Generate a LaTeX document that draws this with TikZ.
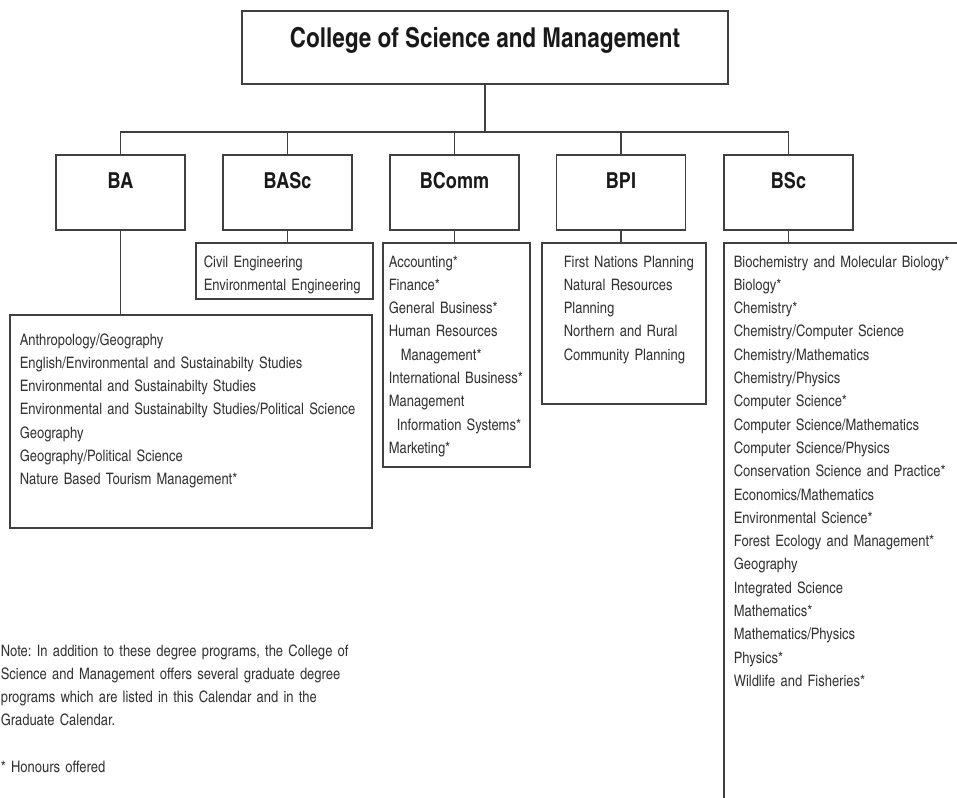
\documentclass[tikz,border=0pt]{standalone}
\usepackage{fontspec}
\setmainfont{texgyreheroscn}[Extension=.otf, UprightFont=*-regular, BoldFont=*-bold]
\frenchspacing

\def\listFont{\fontsize{15.8}{23.3}\selectfont}

\begin{document}
\begin{tikzpicture}[x=1pt, y=-1pt, line cap=round, line width=1.6pt,
	box/.style={draw=black!75, rectangle, inner sep=0pt},
	headBox/.style={box, font=\fontsize{27.4}{27.4}\selectfont\bfseries, text=black!90},
	degreeBox/.style={headBox, font=\fontsize{22}{22}\selectfont\bfseries, minimum width=129pt, text height=33pt, text depth=42pt},
	listText/.style={anchor=base west, align=left, text width=360pt, inner sep=0pt, font=\listFont, text=black!80}]
		\useasboundingbox (0,0) rectangle (957,797);
		
		\node (college) [headBox, minimum width=486pt, text height=37pt, text depth=36pt] at (485,47.5) {College of Science and Management};
		
		% degree boxes
		\node (BA) [degreeBox] at (120.5,192.5) {BA};
		\node (BASc) [degreeBox] at (287.5,192.5) {BASc};
		\node (BComm) [degreeBox] at (454.5,192.5) {BComm};
		\node (BPI) [degreeBox] at (621,192.5) {BPI};
		\node (BSc) [degreeBox] at (788.5,192.5) {BSc};
		
		\coordinate (bus) at (485,132);
		\draw[draw=black!75] (college.south) -- (bus);
		\draw[draw=black!75] (BA.north) |- (BSc.north |- bus) -- (BSc.north);
		\foreach \deg in {BASc,BComm,BPI}
			\draw[draw=black!75] (\deg.north) -- (\deg.north |- bus);
		
		% program lists
		\node (BAlist) [box, minimum width=362pt, minimum height=213pt] at (191,421.5) {};
		\node (BAsclist) [box, minimum width=177pt, minimum height=56pt] at (284.5,271) {};
		\node (BCommlist) [box, minimum width=147pt, minimum height=224pt] at (456.5,355) {};
		\node (BPIlist) [box, minimum width=164pt, minimum height=161pt] at (624,323.5) {};
		\node (BSclist) [box, minimum width=276pt, minimum height=597pt] at (862,541.5) {};
		
		\foreach \deg in {BA,BASc,BComm,BPI,BSc}
			\draw[draw=black!75] (\deg.south) -- (\deg.south |- BAsclist.north);
		\draw[draw=black!75] (BA.south) -- (BA.south |- BAlist.north);
		
		\node (BAtext) [listText] at (19,345) {Anthropology/Geography\\
			English/Environmental and Sustainabilty Studies\\
			Environmental and Sustainabilty Studies\\
			Environmental and Sustainabilty Studies/Political Science\\
			Geography\\
			Geography/Political Science\\
			Nature Based Tourism Management*};
		\node (BAsctext) [listText] at (203,267) {Civil Engineering\\
			Environmental Engineering};
		\node (BCommtext) [listText] at (388,267) {Accounting*\\
			Finance*\\
			General Business*\\
			Human Resources\\
			\hspace*{12pt}Management*\\
			International Business*\\
			Management\\
			\hspace*{8pt}Information Systems*\\
			Marketing*};
		\node (BPItext) [listText] at (563,267) {First Nations Planning\\
			Natural Resources\\
			Planning\\
			Northern and Rural\\
			Community Planning};
		\node (BSctext) [listText] at (733,267) {Biochemistry and Molecular Biology*\\
			Biology*\\
			Chemistry*\\
			Chemistry/Computer Science\\
			Chemistry/Mathematics\\
			Chemistry/Physics\\
			Computer Science*\\
			Computer Science/Mathematics\\
			Computer Science/Physics\\
			Conservation Science and Practice*\\
			Economics/Mathematics\\
			Environmental Science*\\
			Forest Ecology and Management*\\
			Geography\\
			Integrated Science\\
			Mathematics*\\
			Mathematics/Physics\\
			Physics*\\
			Wildlife and Fisheries*};
		
		\node (note) [listText] at (0,656) {Note: In addition to these degree programs, the College of\\
			Science and Management offers several graduate degree\\
			programs which are listed in this Calendar and in the\\
			Graduate Calendar.\\[23.3pt]
			* Honours offered};
\end{tikzpicture}
\end{document}
